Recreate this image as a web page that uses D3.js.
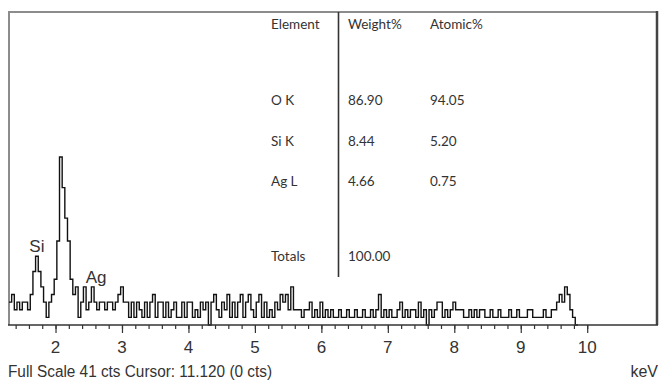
<!DOCTYPE html>
<html>
<head>
<meta charset="utf-8">
<script src="https://cdn.jsdelivr.net/npm/d3@7"></script>
<style>
  html, body { margin: 0; padding: 0; background: #fff; }
  svg { display: block; }
</style>
</head>
<body>
<svg id="chart" width="659" height="381"></svg>
<script>
// EDS spectrum: counts per 0.04 keV channel starting at 1.30 keV
const startKeV = 1.30;
const channelKeV = 0.04;
const counts = [
  3, 4, 2, 3, 2, 3, 3, 2, 4, 7,
  9, 7, 5, 3, 1, 3, 4, 6, 11, 22,
  18, 14, 11, 6, 4, 5, 1, 3, 5, 2,
  3, 5, 3, 2, 3, 3, 2, 3, 3, 2,
  3, 4, 5, 3, 3, 1, 3, 1, 3, 2,
  1, 3, 1, 3, 4, 1, 3, 3, 1, 3,
  1, 2, 3, 1, 1, 3, 1, 3, 3, 1,
  2, 1, 3, 2, 3, 0, 3, 4, 2, 1,
  3, 2, 4, 1, 3, 1, 3, 4, 1, 3,
  4, 2, 1, 3, 4, 1, 3, 1, 2, 1,
  3, 2, 4, 3, 4, 2, 5, 2, 2, 2,
  1, 2, 2, 3, 1, 2, 1, 3, 1, 2,
  1, 2, 1, 1, 2, 1, 1, 2, 1, 1,
  2, 1, 1, 2, 1, 1, 2, 1, 2, 4,
  1, 2, 1, 2, 1, 1, 2, 3, 1, 2,
  1, 2, 2, 1, 3, 1, 2, 0, 2, 1,
  2, 3, 3, 1, 2, 1, 2, 3, 2, 2,
  2, 1, 1, 2, 1, 2, 1, 2, 2, 1,
  1, 2, 1, 1, 2, 1, 1, 1, 2, 1,
  1, 2, 1, 1, 1, 2, 2, 1, 1, 1,
  1, 2, 1, 1, 2, 2, 3, 4, 3, 5,
  4, 2, 1, 0
];

// Peak identification labels
const peakNames = ["Si", "Ag"];
const peakLabelKeV = [1.72, 2.61];
const peakLabelCts = [9.6, 5.5];

// Quantification table
const tableHeader = ["Element", "Weight%", "Atomic%"];
const elements = ["O K", "Si K", "Ag L"];
const weightPct = ["86.90", "8.44", "4.66"];
const atomicPct = ["94.05", "5.20", "0.75"];
const totalWeight = "100.00";

// Axis ticks
const tickLabels = [2, 3, 4, 5, 6, 7, 8, 9, 10];
const minorTicks = d3.range(7, 51).map(k => k / 5);   // 1.4 … 10.0 keV
const statusText = "Full Scale 41 cts Cursor: 11.120  (0 cts)";
const unitText = "keV";

const svg = d3.select("#chart");
const plotL = 9, plotR = 657, plotT = 12, plotB = 325;

const x = d3.scaleLinear().domain([1.30, 11.05]).range([plotL, plotR]);
const y = d3.scaleLinear().domain([0, 41]).range([plotB, plotT]);

// Frame
svg.append("line").attr("x1", plotL).attr("x2", plotR).attr("y1", plotT).attr("y2", plotT)
  .attr("stroke", "#8c8c8c").attr("stroke-width", 2);
svg.append("line").attr("x1", plotL).attr("x2", plotL).attr("y1", plotT - 1).attr("y2", plotB)
  .attr("stroke", "#8c8c8c").attr("stroke-width", 2);
svg.append("line").attr("x1", plotR).attr("x2", plotR).attr("y1", plotT - 1).attr("y2", plotB)
  .attr("stroke", "#444").attr("stroke-width", 2.5);

// Spectrum as a step trace
const pts = counts.map((c, i) => [startKeV + i * channelKeV, c]);
pts.push([startKeV + counts.length * channelKeV, counts[counts.length - 1]]);
const step = d3.line().x(d => x(d[0])).y(d => y(d[1])).curve(d3.curveStepAfter);
svg.append("path").attr("d", step(pts))
  .attr("fill", "none").attr("stroke", "#111").attr("stroke-width", 1.4)
  .attr("stroke-linejoin", "miter");

// Energy axis
const axisG = svg.append("g").attr("transform", `translate(0,${plotB})`);
axisG.call(d3.axisBottom(x).tickValues(minorTicks).tickSize(4).tickFormat(""));
axisG.append("g").call(d3.axisBottom(x).tickValues(tickLabels).tickSize(8).tickFormat(""));
axisG.selectAll(".domain").remove();
axisG.selectAll(".tick line").attr("stroke", "#333").attr("stroke-width", 1.2);
svg.append("line").attr("x1", plotL - 1).attr("x2", plotR + 1).attr("y1", plotB).attr("y2", plotB)
  .attr("stroke", "#333").attr("stroke-width", 1.6);

const axisFont = "'Liberation Sans Narrow', 'Liberation Sans', Arial, sans-serif";
svg.append("g").selectAll("text").data(tickLabels).join("text")
  .attr("x", d => x(d)).attr("y", 353)
  .attr("text-anchor", "middle")
  .attr("font-family", axisFont).attr("font-size", 17).attr("fill", "#333")
  .text(d => d);

svg.append("text").attr("x", 8).attr("y", 377)
  .attr("font-family", axisFont).attr("font-size", 16).attr("fill", "#333")
  .attr("textLength", 264).attr("lengthAdjust", "spacingAndGlyphs")
  .text(statusText);
svg.append("text").attr("x", 658).attr("y", 377).attr("text-anchor", "end")
  .attr("font-family", axisFont).attr("font-size", 16).attr("fill", "#333")
  .text(unitText);

// Peak labels
svg.append("g").selectAll("text").data(peakNames).join("text")
  .attr("x", (d, i) => x(peakLabelKeV[i])).attr("y", (d, i) => y(peakLabelCts[i]))
  .attr("text-anchor", "middle")
  .attr("font-family", axisFont).attr("font-size", 17).attr("fill", "#333")
  .text(d => d);

// Quantification table
const tFont = "Lato, 'Open Sans', sans-serif";
const colX = [271, 348, 430];
const rowY = [29, 105, 146, 186];
const tbl = svg.append("g").attr("font-family", tFont).attr("font-size", 13.5).attr("fill", "#333");
tableHeader.forEach((h, j) => tbl.append("text").attr("x", colX[j]).attr("y", rowY[0]).text(h));
elements.forEach((e, i) => {
  tbl.append("text").attr("x", colX[0]).attr("y", rowY[i + 1]).text(e);
  tbl.append("text").attr("x", colX[1]).attr("y", rowY[i + 1]).text(weightPct[i]);
  tbl.append("text").attr("x", colX[2]).attr("y", rowY[i + 1]).text(atomicPct[i]);
});
tbl.append("text").attr("x", colX[0]).attr("y", 261).text("Totals");
tbl.append("text").attr("x", colX[1]).attr("y", 261).text(totalWeight);
svg.append("line").attr("x1", 338.5).attr("x2", 338.5).attr("y1", plotT).attr("y2", 277)
  .attr("stroke", "#333").attr("stroke-width", 1.6);
</script>
</body>
</html>
